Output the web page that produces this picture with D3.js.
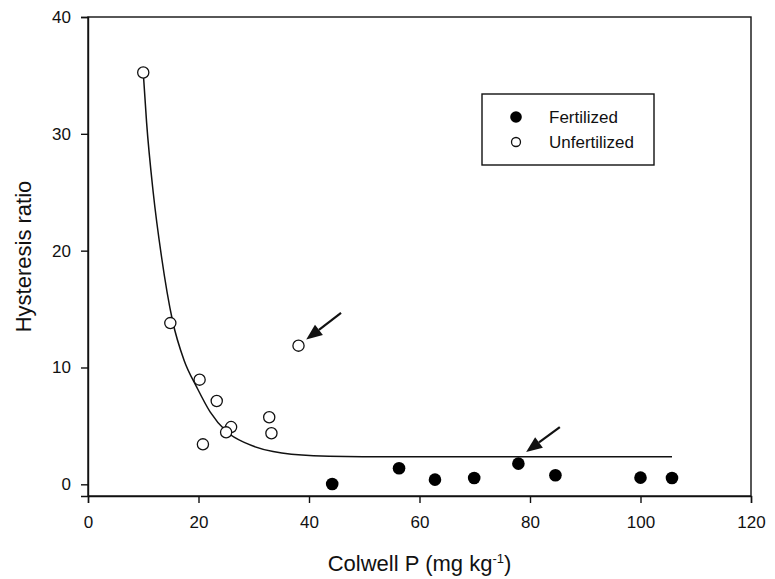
<!DOCTYPE html>
<html>
<head>
<meta charset="utf-8">
<script src="https://cdn.jsdelivr.net/npm/d3@7"></script>
<style>
  html, body { margin: 0; padding: 0; background: #fff; }
  svg { display: block; font-family: "Liberation Sans", Arial, sans-serif; }
</style>
</head>
<body>
<svg id="chart" width="775" height="579"></svg>
<script>
// Colwell P (mg/kg) vs hysteresis ratio
const fertilizedP     = [44.2, 56.3, 62.8, 69.9, 77.9, 84.6, 100.0, 105.7];
const fertilizedRatio = [0.03, 1.37, 0.40, 0.54, 1.77, 0.77, 0.57, 0.54];

const unfertilizedP     = [10.0, 14.9, 20.2, 23.3, 25.9, 25.0, 20.8, 32.8, 33.2, 38.1];
const unfertilizedRatio = [35.25, 13.8, 8.96, 7.13, 4.9, 4.45, 3.42, 5.74, 4.37, 11.87];

// fitted decay curve, read along its length
const curveP     = [10.0, 10.6, 11.8, 13.3, 15.3, 17.4, 19.7, 22.1, 25.1, 28.7, 33.5, 40.8, 52.9, 70.0, 90.0, 105.7];
const curveRatio = [35.25, 31.0, 25.0, 19.5, 14.0, 10.6, 8.3, 6.2, 4.5, 3.5, 2.8, 2.45, 2.36, 2.35, 2.35, 2.35];

// annotation arrows: [tailP, tailRatio, tipP, tipRatio]
const arrows = [
  [45.8, 14.67, 39.5, 12.39],
  [85.4, 4.9, 79.3, 2.77]
];

const xTicks = [0, 20, 40, 60, 80, 100, 120];
const yTicks = [0, 10, 20, 30, 40];
const legendLabels = ["Fertilized", "Unfertilized"];

const svg = d3.select("#chart");
const margin = { left: 88, right: 24, top: 17, bottom: 83 };
const W = 775, H = 579;

const x = d3.scaleLinear().domain([0, 120]).range([margin.left, W - margin.right]);
const y = d3.scaleLinear().domain([-1, 40]).range([H - margin.bottom, margin.top]);

const ink = "#111";

// frame
svg.append("rect")
  .attr("x", x(0)).attr("y", y(40))
  .attr("width", x(120) - x(0)).attr("height", y(-1) - y(40))
  .attr("fill", "none").attr("stroke", ink).attr("stroke-width", 1.4);

// axes
const xAxis = d3.axisBottom(x).tickValues(xTicks).tickSize(7).tickPadding(13).tickFormat(d3.format("d"));
const yAxis = d3.axisLeft(y).tickValues(yTicks).tickSize(7).tickPadding(10).tickFormat(d3.format("d"));

const gx = svg.append("g").attr("transform", `translate(0,${y(-1)})`).call(xAxis);
const gy = svg.append("g").attr("transform", `translate(${x(0)},0)`).call(yAxis);
[gx, gy].forEach(g => {
  g.select(".domain").attr("stroke", ink).attr("stroke-width", 1.4);
  g.selectAll(".tick line").attr("stroke", ink).attr("stroke-width", 1.4);
  g.selectAll(".tick text").attr("fill", ink).style("font-size", "17px")
    .style("font-family", "'Liberation Sans', Arial, sans-serif");
});

// axis titles
const xt = svg.append("text")
  .attr("x", (x(0) + x(120)) / 2).attr("y", 571)
  .attr("text-anchor", "middle").attr("fill", ink).style("font-size", "22px");
xt.append("tspan").text("Colwell P (mg kg");
xt.append("tspan").attr("dy", -8).style("font-size", "13px").text("-1");
xt.append("tspan").attr("dy", 8).text(")");

svg.append("text")
  .attr("transform", `translate(31,${(y(40) + y(-1)) / 2}) rotate(-90)`)
  .attr("text-anchor", "middle").attr("fill", ink).style("font-size", "22px")
  .text("Hysteresis ratio");

// fitted curve
const line = d3.line().x(d => x(d[0])).y(d => y(d[1])).curve(d3.curveMonotoneX);
svg.append("path")
  .datum(curveP.map((p, i) => [p, curveRatio[i]]))
  .attr("d", line).attr("fill", "none").attr("stroke", ink).attr("stroke-width", 1.5);

// arrows
arrows.forEach(([tp, tr, hp, hr]) => {
  const x1 = x(tp), y1 = y(tr), x2 = x(hp), y2 = y(hr);
  const ang = Math.atan2(y2 - y1, x2 - x1);
  const len = 16, half = 6.5;
  const bx = x2 - len * Math.cos(ang), by = y2 - len * Math.sin(ang);
  svg.append("line")
    .attr("x1", x1).attr("y1", y1).attr("x2", bx).attr("y2", by)
    .attr("stroke", ink).attr("stroke-width", 2.2);
  const px = -Math.sin(ang) * half, py = Math.cos(ang) * half;
  svg.append("path")
    .attr("d", `M${x2},${y2}L${bx + px},${by + py}L${bx - px},${by - py}Z`)
    .attr("fill", ink);
});

// unfertilized points
svg.append("g").selectAll("circle")
  .data(unfertilizedP.map((p, i) => [p, unfertilizedRatio[i]]))
  .join("circle")
  .attr("cx", d => x(d[0])).attr("cy", d => y(d[1])).attr("r", 5.6)
  .attr("fill", "#fff").attr("stroke", ink).attr("stroke-width", 1.3);

// fertilized points
svg.append("g").selectAll("circle")
  .data(fertilizedP.map((p, i) => [p, fertilizedRatio[i]]))
  .join("circle")
  .attr("cx", d => x(d[0])).attr("cy", d => y(d[1])).attr("r", 6.3)
  .attr("fill", "#000");

// legend
const lg = svg.append("g");
lg.append("rect")
  .attr("x", 482).attr("y", 94).attr("width", 172).attr("height", 71)
  .attr("fill", "#fff").attr("stroke", ink).attr("stroke-width", 1.4);
lg.append("circle").attr("cx", 516).attr("cy", 117).attr("r", 5.8).attr("fill", "#000");
lg.append("circle").attr("cx", 516).attr("cy", 142).attr("r", 4.5)
  .attr("fill", "#fff").attr("stroke", ink).attr("stroke-width", 1.3);
lg.selectAll("text.lab").data(legendLabels).join("text")
  .attr("class", "lab")
  .attr("x", 549).attr("y", (d, i) => 123 + i * 24.5)
  .attr("fill", ink).style("font-size", "17px").text(d => d);
</script>
</body>
</html>
